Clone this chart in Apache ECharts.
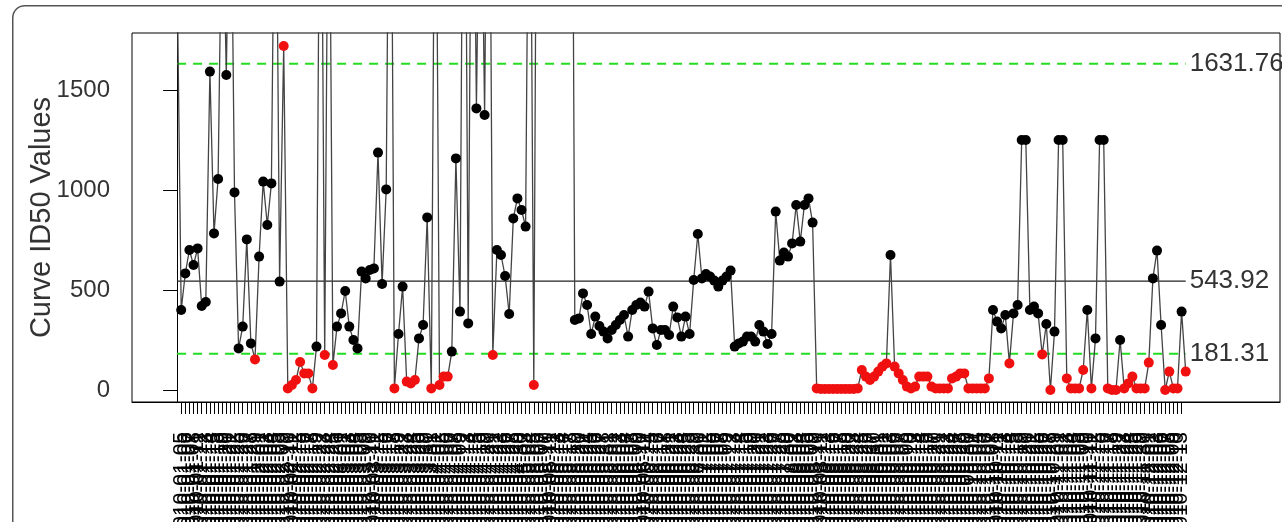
<!DOCTYPE html>
<html>
<head>
<meta charset="utf-8">
<script src="https://cdn.jsdelivr.net/npm/echarts@6/dist/echarts.min.js"></script>
<style>
html, body { margin: 0; padding: 0; background: #fff; }
#chart { width: 1282px; height: 522px; }
</style>
</head>
<body>
<div id="chart"></div>
<script>
// values (points above the top edge are estimated)
var id50Values = [
    2100, 400, 583, 700, 625, 708, 420, 440, 1592, 783, 1055, 2600, 1575, 2900, 988, 208, 317, 753, 233, 153,
    667, 1042, 825, 1033, 3100, 542, 1720, 8, 25, 50, 140, 83, 83, 8, 217, 3400, 175, 3200, 125, 317,
    383, 495, 317, 250, 208, 592, 558, 600, 608, 1187, 530, 1003, 3600, 8, 280, 517, 42, 33, 50, 258,
    325, 863, 8, 3300, 25, 67, 67, 192, 1158, 392, 3800, 333, 3500, 1408, 3000, 1375, 3700, 175, 700, 675,
    570, 380, 858, 958, 900, 817, 3400, 25, 4200, 3600, 5100, 2900, 4400, 3800, 2600, 3300, 4700, 350, 358, 483,
    425, 280, 367, 320, 292, 258, 300, 325, 350, 375, 267, 400, 425, 437, 417, 492, 308, 225, 300, 300,
    275, 417, 363, 267, 367, 280, 550, 780, 558, 580, 567, 547, 517, 547, 567, 597, 217, 233, 242, 267,
    267, 242, 325, 292, 230, 280, 892, 647, 687, 667, 733, 925, 742, 925, 958, 837, 8, 5, 5, 5,
    5, 5, 5, 5, 5, 5, 8, 100, 67, 50, 67, 92, 117, 133, 675, 117, 83, 50, 17, 8,
    17, 67, 67, 67, 17, 8, 8, 8, 8, 58, 67, 83, 83, 8, 8, 8, 8, 8, 58, 400,
    342, 308, 375, 133, 383, 425, 1250, 1250, 400, 417, 383, 178, 330, 0, 292, 1250, 1250, 58, 8, 8,
    8, 100, 400, 8, 258, 1250, 1250, 8, 0, 0, 250, 8, 33, 67, 8, 8, 8, 137, 558, 697,
    325, 0, 92, 8, 8, 392, 92
];

// x labels are unreadable in the picture (overlapping rotated dates)
var xLabels = (
    "2010-01-04 2010-01-05 2010-01-06 2010-01-07 2010-01-08 2010-01-11 2010-01-12 2010-01-13 2010-01-14 2010-01-15 " +
    "2010-01-18 2010-01-19 2010-01-20 2010-01-21 2010-01-22 2010-01-25 2010-01-26 2010-01-27 2010-01-28 2010-01-29 " +
    "2010-02-01 2010-02-02 2010-02-03 2010-02-04 2010-02-05 2010-02-08 2010-02-09 2010-02-10 2010-02-11 2010-02-12 " +
    "2010-02-15 2010-02-16 2010-02-17 2010-02-18 2010-02-19 2010-02-22 2010-02-23 2010-02-24 2010-02-25 2010-02-26 " +
    "2010-03-01 2010-03-02 2010-03-03 2010-03-04 2010-03-05 2010-03-08 2010-03-09 2010-03-10 2010-03-11 2010-03-12 " +
    "2010-03-15 2010-03-16 2010-03-17 2010-03-18 2010-03-19 2010-03-22 2010-03-23 2010-03-24 2010-03-25 2010-03-26 " +
    "2010-03-29 2010-03-30 2010-03-31 2010-04-01 2010-04-02 2010-04-05 2010-04-06 2010-04-07 2010-04-08 2010-04-09 " +
    "2010-04-12 2010-04-13 2010-04-14 2010-04-15 2010-04-16 2010-04-19 2010-04-20 2010-04-21 2010-04-22 2010-04-23 " +
    "2010-04-26 2010-04-27 2010-04-28 2010-04-29 2010-04-30 2010-05-03 2010-05-04 2010-05-05 2010-05-06 2010-05-07 " +
    "2010-05-10 2010-05-11 2010-05-12 2010-05-13 2010-05-14 2010-05-17 2010-05-18 2010-05-19 2010-05-20 2010-05-21 " +
    "2010-05-24 2010-05-25 2010-05-26 2010-05-27 2010-05-28 2010-05-31 2010-06-01 2010-06-02 2010-06-03 2010-06-04 " +
    "2010-06-07 2010-06-08 2010-06-09 2010-06-10 2010-06-11 2010-06-14 2010-06-15 2010-06-16 2010-06-17 2010-06-18 " +
    "2010-06-21 2010-06-22 2010-06-23 2010-06-24 2010-06-25 2010-06-28 2010-06-29 2010-06-30 2010-07-01 2010-07-02 " +
    "2010-07-05 2010-07-06 2010-07-07 2010-07-08 2010-07-09 2010-07-12 2010-07-13 2010-07-14 2010-07-15 2010-07-16 " +
    "2010-07-19 2010-07-20 2010-07-21 2010-07-22 2010-07-23 2010-07-26 2010-07-27 2010-07-28 2010-07-29 2010-07-30 " +
    "2010-08-02 2010-08-03 2010-08-04 2010-08-05 2010-08-06 2010-08-09 2010-08-10 2010-08-11 2010-08-12 2010-08-13 " +
    "2010-08-16 2010-08-17 2010-08-18 2010-08-19 2010-08-20 2010-08-23 2010-08-24 2010-08-25 2010-08-26 2010-08-27 " +
    "2010-08-30 2010-08-31 2010-09-01 2010-09-02 2010-09-03 2010-09-06 2010-09-07 2010-09-08 2010-09-09 2010-09-10 " +
    "2010-09-13 2010-09-14 2010-09-15 2010-09-16 2010-09-17 2010-09-20 2010-09-21 2010-09-22 2010-09-23 2010-09-24 " +
    "2010-09-27 2010-09-28 2010-09-29 2010-09-30 2010-10-01 2010-10-04 2010-10-05 2010-10-06 2010-10-07 2010-10-08 " +
    "2010-10-11 2010-10-12 2010-10-13 2010-10-14 2010-10-15 2010-10-18 2010-10-19 2010-10-20 2010-10-21 2010-10-22 " +
    "2010-10-25 2010-10-26 2010-10-27 2010-10-28 2010-10-29 2010-11-01 2010-11-02 2010-11-03 2010-11-04 2010-11-05 " +
    "2010-11-08 2010-11-09 2010-11-10 2010-11-11 2010-11-12 2010-11-15 2010-11-16 2010-11-17 2010-11-18 2010-11-19 " +
    "2010-11-22 2010-11-23 2010-11-24 2010-11-25 2010-11-26 2010-11-29 2010-11-30 2010-12-01 2010-12-02 2010-12-03 " +
    "2010-12-06 2010-12-07 2010-12-08 2010-12-09 2010-12-10 2010-12-13 2010-12-14"
).split(" ");

var centerLine = 543.92;
var upperLimit = 1631.76;
var lowerLimit = 181.31;
var yTicks = [0, 500, 1000, 1500];

var N = id50Values.length;
var idx = id50Values.map(function (v, i) { return i; });

// horizontal control line spanning the data range, value written at its end
function limitSeries(value, color, type, width) {
    return {
        type: 'line',
        data: [[0, value], [N - 1, value]],
        symbol: 'none',
        silent: true,
        z: 1,
        lineStyle: { color: color, width: width, type: type },
        endLabel: {
            show: true, distance: 4,
            formatter: value.toFixed(2), fontSize: 26, color: '#333'
        }
    };
}

var myChart = echarts.init(document.getElementById('chart'));
var option = {
    animation: false,
    backgroundColor: '#fff',
    textStyle: { fontFamily: 'Liberation Sans' },
    graphic: [{
        type: 'rect', left: 12, top: 5, z: -10, silent: true,
        shape: { width: 1400, height: 700, r: 12 },
        style: { fill: 'transparent', stroke: '#555', lineWidth: 1.5 }
    }],
    grid: {
        left: 132, right: 2, top: 33, bottom: 120,
        outerBoundsMode: 'none',
        show: true, borderColor: '#000', borderWidth: 1
    },
    xAxis: {
        type: 'value',
        min: -11,
        max: 269,
        splitLine: { show: false },
        axisLine: { show: true, onZero: false, lineStyle: { color: '#000' } },
        axisTick: { show: true, customValues: idx, length: 12, lineStyle: { color: '#000' } },
        axisLabel: {
            customValues: idx, rotate: 90, margin: 30,
            fontSize: 21, color: '#000',
            formatter: function (v) { return xLabels[v] || ''; }
        }
    },
    yAxis: {
        type: 'value',
        min: -60,
        max: 1785,
        name: 'Curve ID50 Values',
        nameLocation: 'middle',
        nameGap: 76,
        nameMoveOverlap: false,
        nameTextStyle: { fontSize: 29, color: '#333' },
        splitLine: { show: false },
        axisLine: { show: true, lineStyle: { color: '#000' } },
        axisTick: { show: true, customValues: yTicks, length: 14, lineStyle: { color: '#000' } },
        axisLabel: {
            customValues: yTicks, margin: 22, fontSize: 24, color: '#333',
            formatter: function (v) { return String(v); }
        }
    },
    series: [
        limitSeries(upperLimit, '#22dd22', [9, 7], 2),
        limitSeries(centerLine, '#222', 'solid', 1.3),
        limitSeries(lowerLimit, '#22dd22', [9, 7], 2),
        {
            type: 'line',
            data: id50Values.map(function (v, i) { return [i, v]; }),
            symbol: 'circle',
            symbolSize: 10,
            showAllSymbol: true,
            clip: true,
            z: 3,
            lineStyle: { color: '#444', width: 1.3 },
            itemStyle: {
                color: function (p) {
                    var v = p.value[1];
                    return (v < lowerLimit || v > upperLimit) ? '#f01010' : '#000';
                }
            }
        }
    ]
};

myChart.setOption(option);
</script>
</body>
</html>
